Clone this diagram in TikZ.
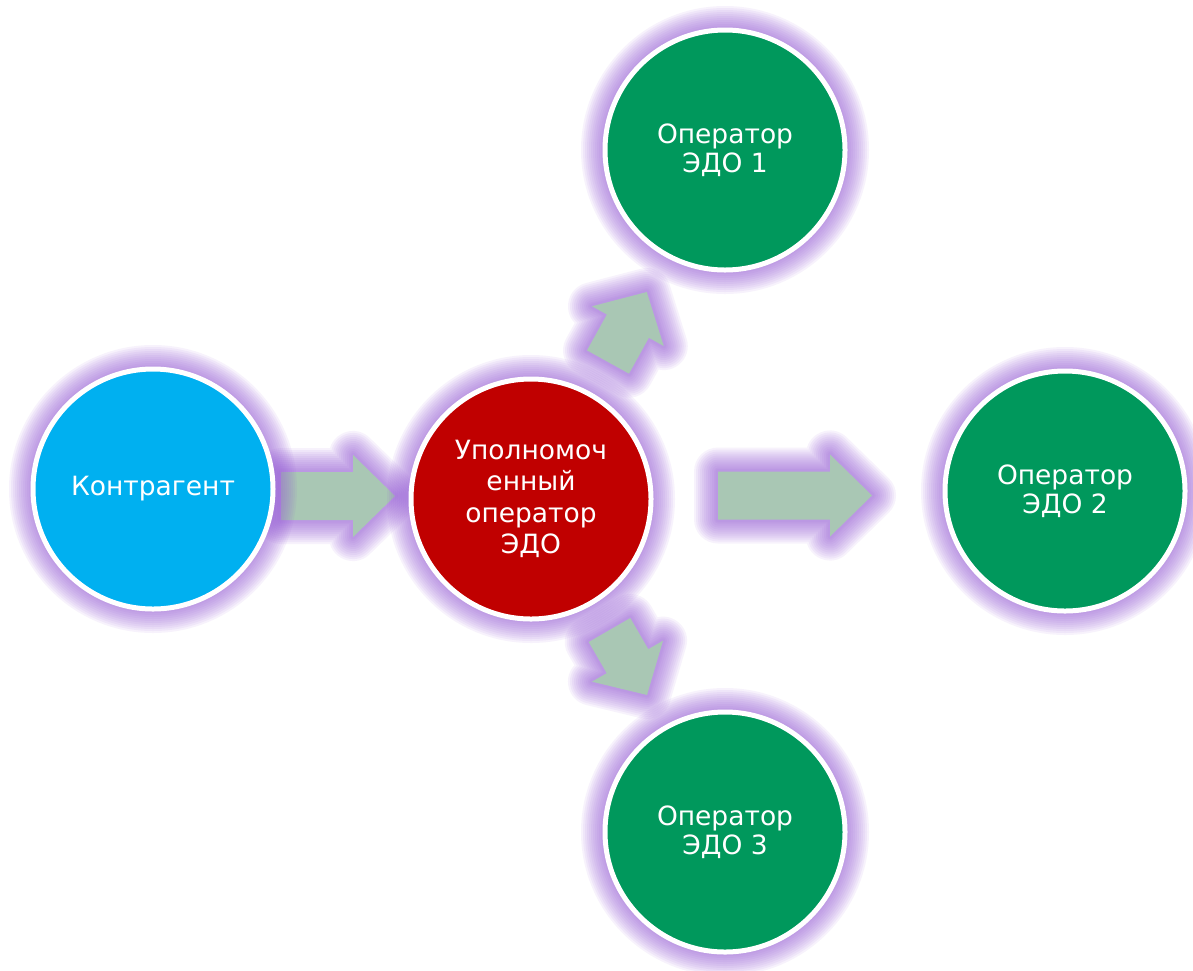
\documentclass[tikz,border=0pt]{standalone}
\usepackage{fontspec}
\setmainfont{DejaVu Sans}
\usepackage{xcolor}

\definecolor{glowc}{RGB}{150,90,215}
\definecolor{kontrc}{RGB}{0,176,240}
\definecolor{hubc}{RGB}{192,0,0}
\definecolor{opc}{RGB}{0,152,92}
\definecolor{flowc}{RGB}{169,199,180}

% block arrow pointing along local x: #1 = length, #2 = head length
\newcommand{\flowarrow}[2]{(0,-24) -- (#1-#2,-24) -- (#1-#2,-41) -- (#1,0)
    -- (#1-#2,41) -- (#1-#2,24) -- (0,24) -- cycle}

\begin{document}
\begin{tikzpicture}[x=1pt,y=-1pt,
                glowline/.style = {preaction={draw=glowc, draw opacity=.075, line width=#1, line join=round}},
                halo/.style = {glowline=48pt, glowline=44pt, glowline=40pt, glowline=36pt,
                               glowline=32pt, glowline=28pt, glowline=24pt, glowline=20pt,
                               glowline=16pt, glowline=12pt, glowline=8pt, glowline=5pt},
                party/.style = {circle, halo, minimum size=240pt, inner sep=0pt, draw=white,
                                line width=5pt, text=white, align=center,
                                font=\fontsize{26.5}{29}\selectfont},
                flow/.style = {halo, fill=flowc}]
            \fill[white] (0,0) rectangle (1193,970);
            \useasboundingbox (0,0) rectangle (1193,970);
            % arrows between the parties
            \coordinate (f0) at (281,496);
            \coordinate (f1) at (608,362);
            \coordinate (f2) at (718,495.5);
            \coordinate (f3) at (609.5,630);
            \begin{scope}[shift={(f0)}]
                \path[flow] \flowarrow{114}{42};
            \end{scope}
            \begin{scope}[shift={(f2)}]
                \path[flow] \flowarrow{154}{42};
            \end{scope}
            \begin{scope}[shift={(f1)}, rotate=61]
                \path[flow] \flowarrow{80}{39};
            \end{scope}
            \begin{scope}[shift={(f3)}, rotate=-60]
                \path[flow] \flowarrow{75}{39};
            \end{scope}
            % parties
            \node[party, fill=kontrc] (kontr) at (153,489) {Контрагент};
            \node[party, fill=hubc, font=\fontsize{26.5}{31.5}\selectfont] (hub) at (531,499)
                {Уполномоч\\енный\\оператор\\ЭДО};
            \node[party, fill=opc] (op1) at (725,150) {Оператор\\ЭДО 1};
            \node[party, fill=opc] (op2) at (1065,491) {Оператор\\ЭДО 2};
            \node[party, fill=opc] (op3) at (725,832) {Оператор\\ЭДО 3};
\end{tikzpicture}
\end{document}
